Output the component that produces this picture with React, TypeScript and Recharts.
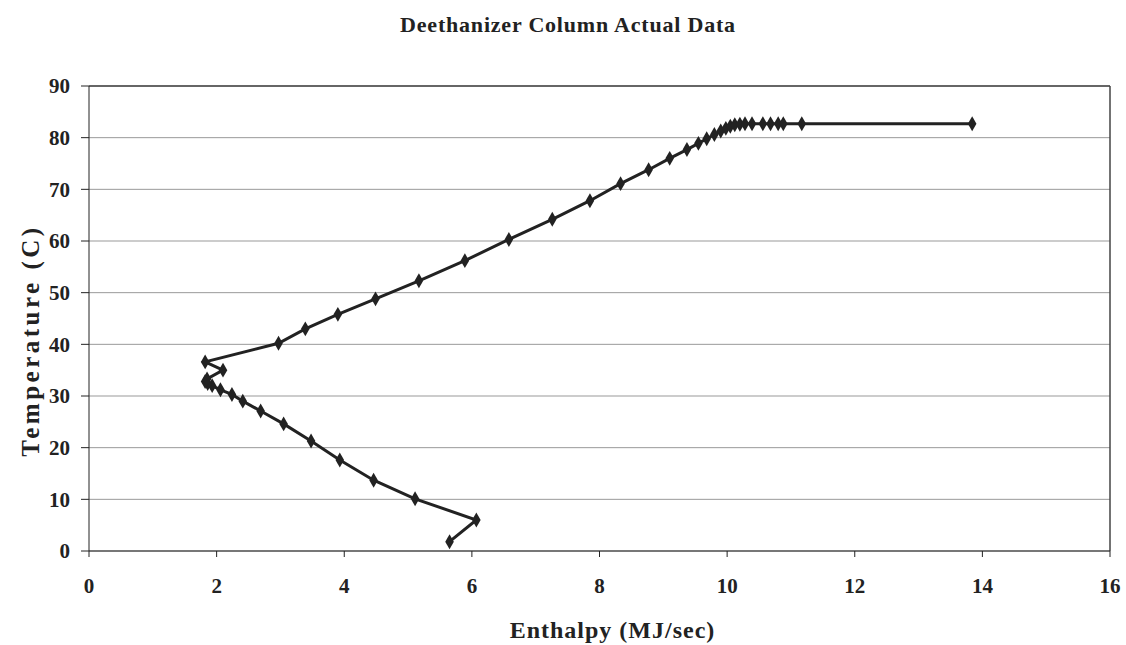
import React from "react";
import {
  ScatterChart,
  Scatter,
  XAxis,
  YAxis,
  ZAxis,
  CartesianGrid,
  ReferenceLine,
} from "recharts";

// bottom of the column first
const enthalpy = [
  5.65, 6.07, 5.11, 4.46, 3.93, 3.48, 3.05, 2.69, 2.41, 2.24, 2.06, 1.93,
  1.86, 1.82, 1.85, 2.1, 1.82, 2.97, 3.39, 3.9, 4.49, 5.17, 5.89, 6.58, 7.26,
  7.85, 8.33, 8.77, 9.1, 9.37, 9.55, 9.68, 9.8, 9.9, 9.98, 10.05, 10.12, 10.2,
  10.28, 10.39, 10.56, 10.68, 10.8, 10.88, 11.17, 13.84,
];
const temperature = [
  1.8, 6.0, 10.1, 13.7, 17.6, 21.3, 24.6, 27.1, 29.0, 30.3, 31.2, 32.0, 32.4,
  32.8, 33.3, 35.0, 36.6, 40.2, 43.0, 45.8, 48.8, 52.3, 56.2, 60.3, 64.2,
  67.8, 71.1, 73.8, 76.0, 77.7, 78.9, 79.8, 80.6, 81.3, 81.8, 82.2, 82.5,
  82.6, 82.7, 82.7, 82.7, 82.7, 82.7, 82.7, 82.7, 82.7,
];
const xTicks = [0, 2, 4, 6, 8, 10, 12, 14, 16];
const yTicks = [0, 10, 20, 30, 40, 50, 60, 70, 80, 90];

const points = enthalpy.map((h, i) => ({ h, t: temperature[i] }));

const font = "'Liberation Serif', 'Times New Roman', serif";
const tickStyle = { fontFamily: font, fontSize: 21, fontWeight: 700, fill: "#222" };

const YLabel = ({ viewBox }: any) => {
  const x = viewBox.x + 22;
  const y = viewBox.y + viewBox.height / 2 + 22;
  return (
    <text
      x={x}
      y={y}
      transform={`rotate(-90, ${x}, ${y})`}
      textAnchor="middle"
      dominantBaseline="central"
      fontFamily={font}
      fontSize={25}
      fontWeight={700}
      letterSpacing={3.5}
      fill="#222"
    >
      Temperature (C)
    </text>
  );
};

const XLabel = ({ viewBox }: any) => (
  <text
    x={viewBox.x + viewBox.width / 2 + 13}
    y={viewBox.y + 87}
    textAnchor="middle"
    fontFamily={font}
    fontSize={24}
    fontWeight={700}
    letterSpacing={1}
    fill="#222"
  >
    Enthalpy (MJ/sec)
  </text>
);

export default function App() {
  return (
    <div
      style={{
        position: "absolute",
        left: 0,
        top: 0,
        width: 1126,
        height: 645,
        background: "#fff",
      }}
    >
      <div
        style={{
          position: "absolute",
          top: 12,
          left: 5,
          width: 1126,
          textAlign: "center",
          fontFamily: font,
          fontWeight: 700,
          fontSize: 22,
          letterSpacing: 0.8,
          color: "#222",
        }}
      >
        Deethanizer Column Actual Data
      </div>
      <ScatterChart
        width={1126}
        height={645}
        margin={{ top: 86, right: 16, bottom: 0, left: 8 }}
      >
        <CartesianGrid horizontal vertical={false} stroke="#999" strokeWidth={1} />
        <XAxis
          type="number"
          dataKey="h"
          domain={[0, 16]}
          ticks={xTicks}
          height={94}
          tickSize={6}
          tickMargin={21}
          stroke="#222"
          tick={tickStyle}
          label={<XLabel />}
        />
        <YAxis
          type="number"
          dataKey="t"
          domain={[0, 90]}
          ticks={yTicks}
          width={81}
          tickSize={8}
          tickMargin={11}
          stroke="#222"
          tick={tickStyle}
          label={<YLabel />}
        />
        <ZAxis range={[22, 22]} />
        <ReferenceLine y={90} stroke="#444" strokeWidth={1.5} />
        <ReferenceLine x={16} stroke="#444" strokeWidth={1.5} />
        <Scatter
          data={points}
          shape="diamond"
          fill="#222"
          line={{ stroke: "#222", strokeWidth: 3 }}
          lineType="joint"
          isAnimationActive={false}
        />
      </ScatterChart>
    </div>
  );
}
